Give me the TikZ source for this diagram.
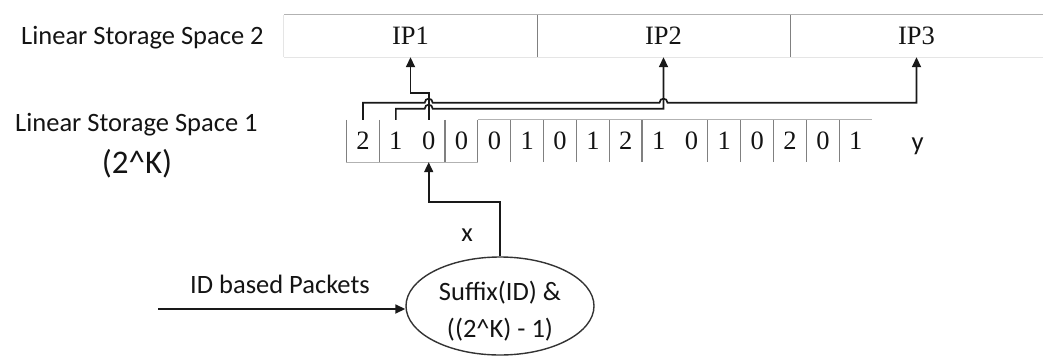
\documentclass[tikz,border=0pt]{standalone}
\usepackage{fontspec}
\setmainfont{Liberation Serif}
\newfontfamily\labelfont{Carlito}
\usetikzlibrary{arrows.meta,shapes.geometric,calc}
\begin{document}
\begin{tikzpicture}[x=1pt,y=-1pt,
  wire/.style={line width=1.7pt, draw=black!90},
  tip/.style={-{Triangle[length=10pt,width=9pt]}},
  sans/.style={font=\labelfont\fontsize{26.5}{32}\selectfont, inner sep=0pt, text=black!92},
  bigsans/.style={font=\labelfont\fontsize{33}{38}\selectfont, inner sep=0pt, text=black!92},
  twoline/.style={font=\labelfont\fontsize{26.5}{37.5}\selectfont, inner sep=0pt, text=black!92, align=center},
  serif/.style={font=\fontsize{26.5}{32}\selectfont, inner sep=0pt, text=black!92},
  slot/.style={serif, minimum width=253pt, minimum height=42pt},
  cell/.style={serif, minimum width=32.85pt, minimum height=42pt},
  gridline/.style={draw=black!50, line width=1.2pt},
  rim/.style={draw=black!30, line width=1.2pt},
  faint/.style={draw=black!10, line width=1.2pt}]
\useasboundingbox (0,0) rectangle (1046,356);

% second storage space: three address slots
\node[slot] (ip1) at (410.5,36) {IP1};
\node[slot] (ip2) at (663.5,36) {IP2};
\node[slot] (ip3) at (916.5,36) {IP3};
\draw[rim] (ip1.north west) -- (ip3.north east);
\draw[faint] (ip1.south west) -- (ip3.south east);
\draw[faint] (ip1.north west) -- (ip1.south west);
\draw[gridline] (ip1.north east) -- (ip1.south east);
\draw[gridline] (ip2.north east) -- (ip2.south east);

% first storage space: 2^K index cells
\foreach \v [count=\i from 0] in {2,1,0,0,0,1,0,1,2,1,0,1,0,2,0,1}
  \node[cell] (c\i) at ({363+32.85*\i},141) {\v};
\foreach \k in {0,1,3,4,5,6,7,8,9,11,12,13,14,15}
  \draw[gridline] (c\k.north west) -- (c\k.south west);
\draw[rim] (c4.north west) -- (c15.north east);
\draw[rim] (c0.south west) -- (c3.south east);

% side labels
\node[sans, anchor=base west] (lss2) at (21,44) {Linear Storage Space 2};
\node[sans, anchor=base west] (lss1) at (15,131) {Linear Storage Space 1};
\node[bigsans, anchor=base] (size) at (137,173) {(2\textasciicircum K)};
\node[sans, anchor=base] (ylab) at (917.5,150) {y};

% hashing stage
\node[ellipse, draw=black!80, line width=1.4pt, minimum width=188pt, minimum height=98pt,
      inner sep=0pt,
      label={[twoline, yshift=-5pt]center:Suffix(ID) \&\\((2\textasciicircum K) - 1)}]
      (E) at (500,306) {};
\coordinate (src) at (158,309);
\draw[wire,tip] (src) -- (src -| E.west);
\node[sans, anchor=base west] (inlab) at (190,293) {ID based Packets};
\draw[wire,tip] (E.north) -- ++(0,-54) -| (c2.south);
\node[sans] (xlab) at (467,235) {x};

% pointers from the cells to the slots
\path (c2.north) ++(0,-11) coordinate (j2);
\path (c2.north) ++(0,-17) coordinate (j3);
\draw[wire,tip] (c2.north) -- ++(0,-27) -| (ip1.south);
\draw[wire,tip] (c1.north) |- ($(j2)+(-4,0)$)
  .. controls +(0,-5.5) and +(0,-5.5) .. ($(j2)+(4,0)$) -| (ip2.south);
\draw[wire,tip] (c0.north) |- ($(j3)+(-4,0)$)
  .. controls +(0,-5.5) and +(0,-5.5) .. ($(j3)+(4,0)$)
  -- ($(ip2.south |- j3)+(-4,0)$)
  .. controls +(0,-5.5) and +(0,-5.5) .. ($(ip2.south |- j3)+(4,0)$)
  -| (ip3.south);
\end{tikzpicture}
\end{document}
